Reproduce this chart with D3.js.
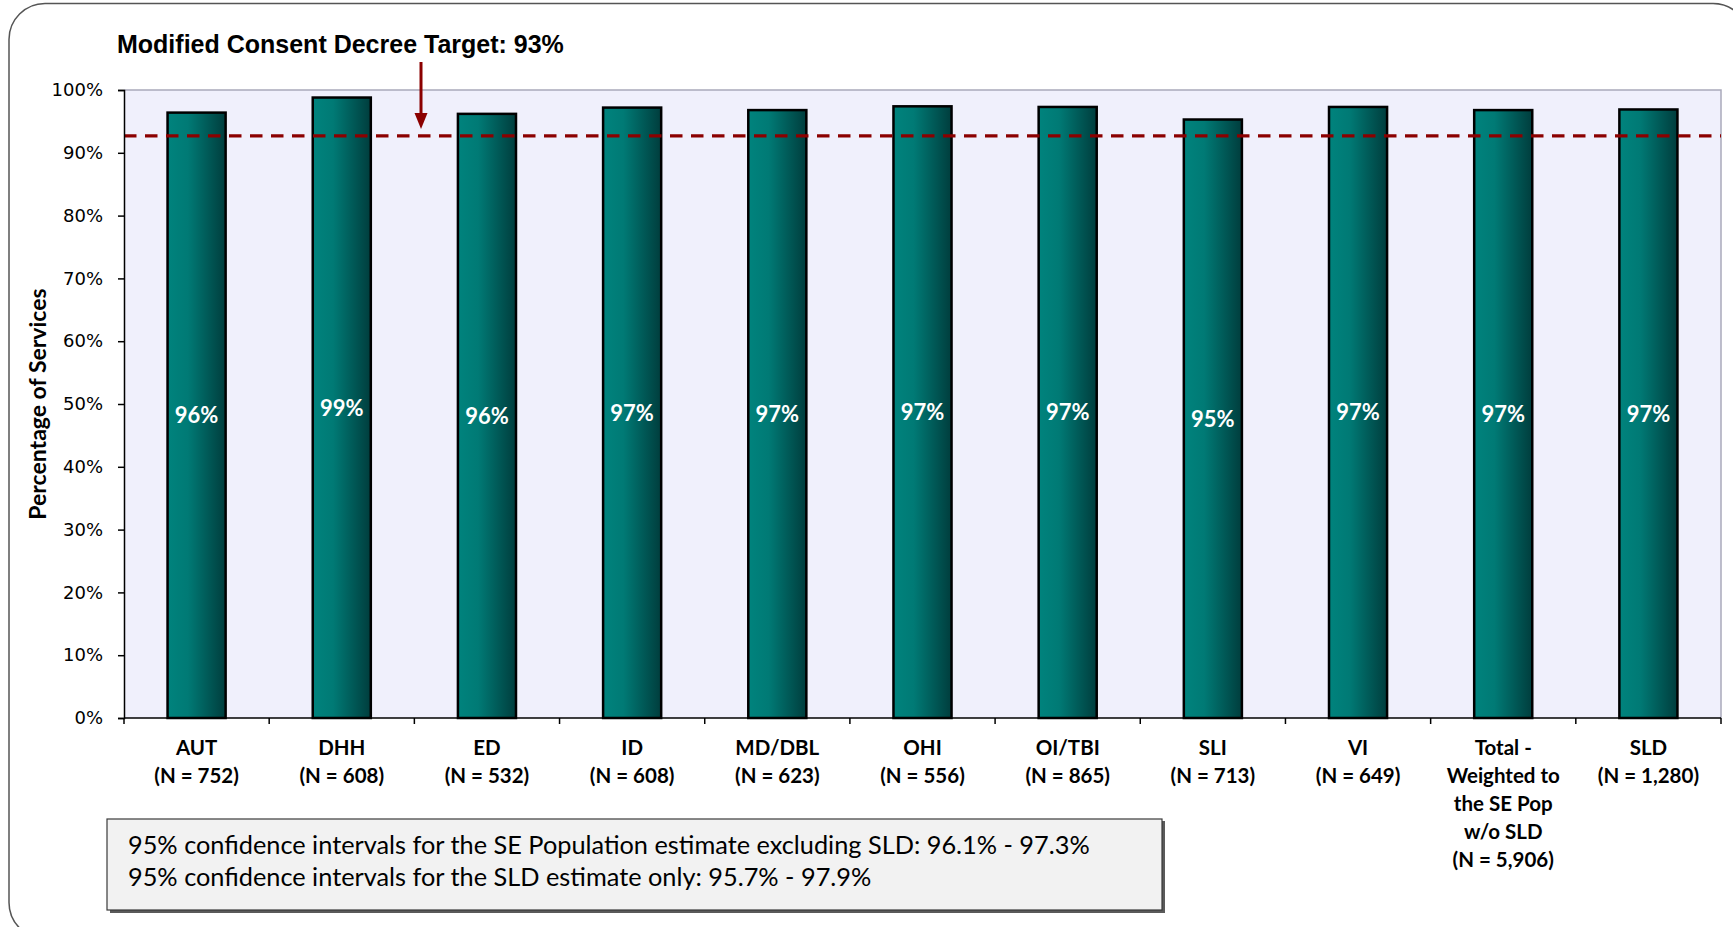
<!DOCTYPE html>
<html>
<head>
<meta charset="utf-8">
<script src="https://cdn.jsdelivr.net/npm/d3@7"></script>
<style>
  html, body { margin: 0; padding: 0; background: #ffffff; }
  svg { display: block; }
</style>
</head>
<body>
<svg id="chart" width="1733" height="927"></svg>
<script>
// ---- data ----
const categories = ["AUT", "DHH", "ED", "ID", "MD/DBL", "OHI", "OI/TBI", "SLI", "VI", "Total", "SLD"];
const categoryLabels = [
  ["AUT", "(N = 752)"],
  ["DHH", "(N = 608)"],
  ["ED", "(N = 532)"],
  ["ID", "(N = 608)"],
  ["MD/DBL", "(N = 623)"],
  ["OHI", "(N = 556)"],
  ["OI/TBI", "(N = 865)"],
  ["SLI", "(N = 713)"],
  ["VI", "(N = 649)"],
  ["Total -", "Weighted to", "the SE Pop", "w/o SLD", "(N = 5,906)"],
  ["SLD", "(N = 1,280)"]
];
const values = [0.964, 0.988, 0.962, 0.972, 0.968, 0.974, 0.973, 0.953, 0.973, 0.968, 0.969];
const targetValue = 0.927;
const targetLabel = "Modified Consent Decree Target: 93%";
const yTicks = [0, 0.1, 0.2, 0.3, 0.4, 0.5, 0.6, 0.7, 0.8, 0.9, 1.0];
const yTitle = "Percentage of Services";
const noteLines = [
  "95% confidence intervals for the SE Population estimate excluding SLD: 96.1% - 97.3%",
  "95% confidence intervals for the SLD estimate only:  95.7% - 97.9%"
];

// ---- layout ----
const svg = d3.select("#chart");
const plot = { left: 124, top: 90, right: 1721, bottom: 718 };

// outer frame
svg.append("rect")
  .attr("x", 9).attr("y", 3.5)
  .attr("width", 1740).attr("height", 935)
  .attr("rx", 36).attr("ry", 36)
  .attr("fill", "#ffffff")
  .attr("stroke", "#555555").attr("stroke-width", 1.5);

const x = d3.scaleBand()
  .domain(categories)
  .range([plot.left, plot.right])
  .paddingInner(0.6)
  .paddingOuter(0.3);

const y = d3.scaleLinear().domain([0, 1]).range([plot.bottom, plot.top]);

// plot background
svg.append("rect")
  .attr("x", plot.left).attr("y", plot.top)
  .attr("width", plot.right - plot.left).attr("height", plot.bottom - plot.top)
  .attr("fill", "#f0f0fc");

// top & right border of plot area
svg.append("path")
  .attr("d", `M${plot.left},${plot.top}H${plot.right}V${plot.bottom}`)
  .attr("fill", "none").attr("stroke", "#a9a9ba").attr("stroke-width", 1.5);

// gradient for bars
const defs = svg.append("defs");
const grad = defs.append("linearGradient").attr("id", "barGrad")
  .attr("x1", "0%").attr("x2", "100%").attr("y1", "0%").attr("y2", "0%");
grad.append("stop").attr("offset", "0%").attr("stop-color", "#00837d");
grad.append("stop").attr("offset", "35%").attr("stop-color", "#007a75");
grad.append("stop").attr("offset", "100%").attr("stop-color", "#003d3d");

// bars
svg.append("g").selectAll("rect")
  .data(values)
  .join("rect")
  .attr("x", (d, i) => x(categories[i]))
  .attr("y", d => y(d))
  .attr("width", x.bandwidth())
  .attr("height", d => y(0) - y(d))
  .attr("fill", "url(#barGrad)")
  .attr("stroke", "#000000").attr("stroke-width", 2.5);

// target dashed line
svg.append("line")
  .attr("x1", plot.left).attr("x2", plot.right)
  .attr("y1", y(targetValue)).attr("y2", y(targetValue))
  .attr("stroke", "#8b0000").attr("stroke-width", 3.2)
  .attr("stroke-dasharray", "12.5,8.5");

// value labels
const pct = d3.format(".0%");
svg.append("g").selectAll("text")
  .data(values)
  .join("text")
  .attr("x", (d, i) => x(categories[i]) + x.bandwidth() / 2)
  .attr("y", d => (y(d) + y(0)) / 2)
  .attr("dy", "0.36em")
  .attr("text-anchor", "middle")
  .attr("font-family", "Lato, 'Open Sans', sans-serif")
  .attr("font-weight", 700)
  .attr("font-size", 22)
  .attr("fill", "#ffffff")
  .text(d => pct(d));

// y axis
const yAxis = d3.axisLeft(y).tickValues(yTicks).tickFormat(d3.format(".0%")).tickSize(6).tickPadding(15);
const gy = svg.append("g").attr("transform", `translate(${plot.left},0)`).call(yAxis);
gy.select(".domain").attr("stroke", "#000").attr("stroke-width", 1.5);
gy.selectAll(".tick line").attr("stroke", "#000").attr("stroke-width", 1.5);
gy.selectAll(".tick text")
  .attr("font-family", "'DejaVu Sans', sans-serif")
  .attr("font-size", 18)
  .attr("fill", "#000");

// x axis line with ticks at band boundaries
svg.append("line")
  .attr("x1", plot.left).attr("x2", plot.right)
  .attr("y1", plot.bottom).attr("y2", plot.bottom)
  .attr("stroke", "#000").attr("stroke-width", 1.5);
const boundaries = categories.map(c => x(c) - x.step() * 0.3).concat([plot.right]);
svg.append("g").selectAll("line")
  .data(boundaries)
  .join("line")
  .attr("x1", d => d).attr("x2", d => d)
  .attr("y1", plot.bottom).attr("y2", plot.bottom + 6)
  .attr("stroke", "#000").attr("stroke-width", 1.5);

// x category labels
const xl = svg.append("g").selectAll("text")
  .data(categoryLabels)
  .join("text")
  .attr("text-anchor", "middle")
  .attr("font-family", "Lato, 'Open Sans', sans-serif")
  .attr("font-weight", 700)
  .attr("font-size", 20.5)
  .attr("fill", "#000");
xl.each(function(lines, i) {
  const cx = x(categories[i]) + x.bandwidth() / 2;
  d3.select(this).selectAll("tspan")
    .data(lines)
    .join("tspan")
    .attr("x", cx)
    .attr("y", (l, j) => 755 + j * 28)
    .text(l => l);
});

// y title
svg.append("text")
  .attr("transform", `translate(46,${(plot.top + plot.bottom) / 2}) rotate(-90)`)
  .attr("text-anchor", "middle")
  .attr("font-family", "Lato, 'Open Sans', sans-serif")
  .attr("font-weight", 700)
  .attr("font-size", 23)
  .attr("fill", "#000")
  .text(yTitle);

// target annotation title
const tt = svg.append("text")
  .attr("x", 117).attr("y", 53)
  .attr("font-family", "'Liberation Sans', Arial, sans-serif")
  .attr("font-weight", 700)
  .attr("font-size", 22)
  .attr("fill", "#000")
  .text(targetLabel);
const ttw = tt.node().getComputedTextLength();
tt.attr("font-size", 22 * 447 / ttw);

// arrow
const ax = 421;
svg.append("line")
  .attr("x1", ax).attr("x2", ax)
  .attr("y1", 62).attr("y2", 116)
  .attr("stroke", "#8b0000").attr("stroke-width", 3);
svg.append("path")
  .attr("d", `M${ax - 6.5},113 L${ax + 6.5},113 L${ax},129 Z`)
  .attr("fill", "#8b0000");

// note box
svg.append("rect")
  .attr("x", 110).attr("y", 821)
  .attr("width", 1055).attr("height", 92)
  .attr("fill", "#5a5a5a");
svg.append("rect")
  .attr("x", 107).attr("y", 819)
  .attr("width", 1055).attr("height", 91)
  .attr("fill", "#f2f2f2")
  .attr("stroke", "#3a3a3a").attr("stroke-width", 1.2);
const nt = svg.append("g").selectAll("text")
  .data(noteLines)
  .join("text")
  .attr("x", 128)
  .attr("y", (d, i) => 854 + i * 32)
  .attr("font-family", "Lato, 'Open Sans', sans-serif")
  .attr("font-size", 22)
  .attr("fill", "#000")
  .text(d => d);
const ntw = nt.node().getComputedTextLength();
nt.attr("font-size", 22 * 962 / ntw);
</script>
</body>
</html>
